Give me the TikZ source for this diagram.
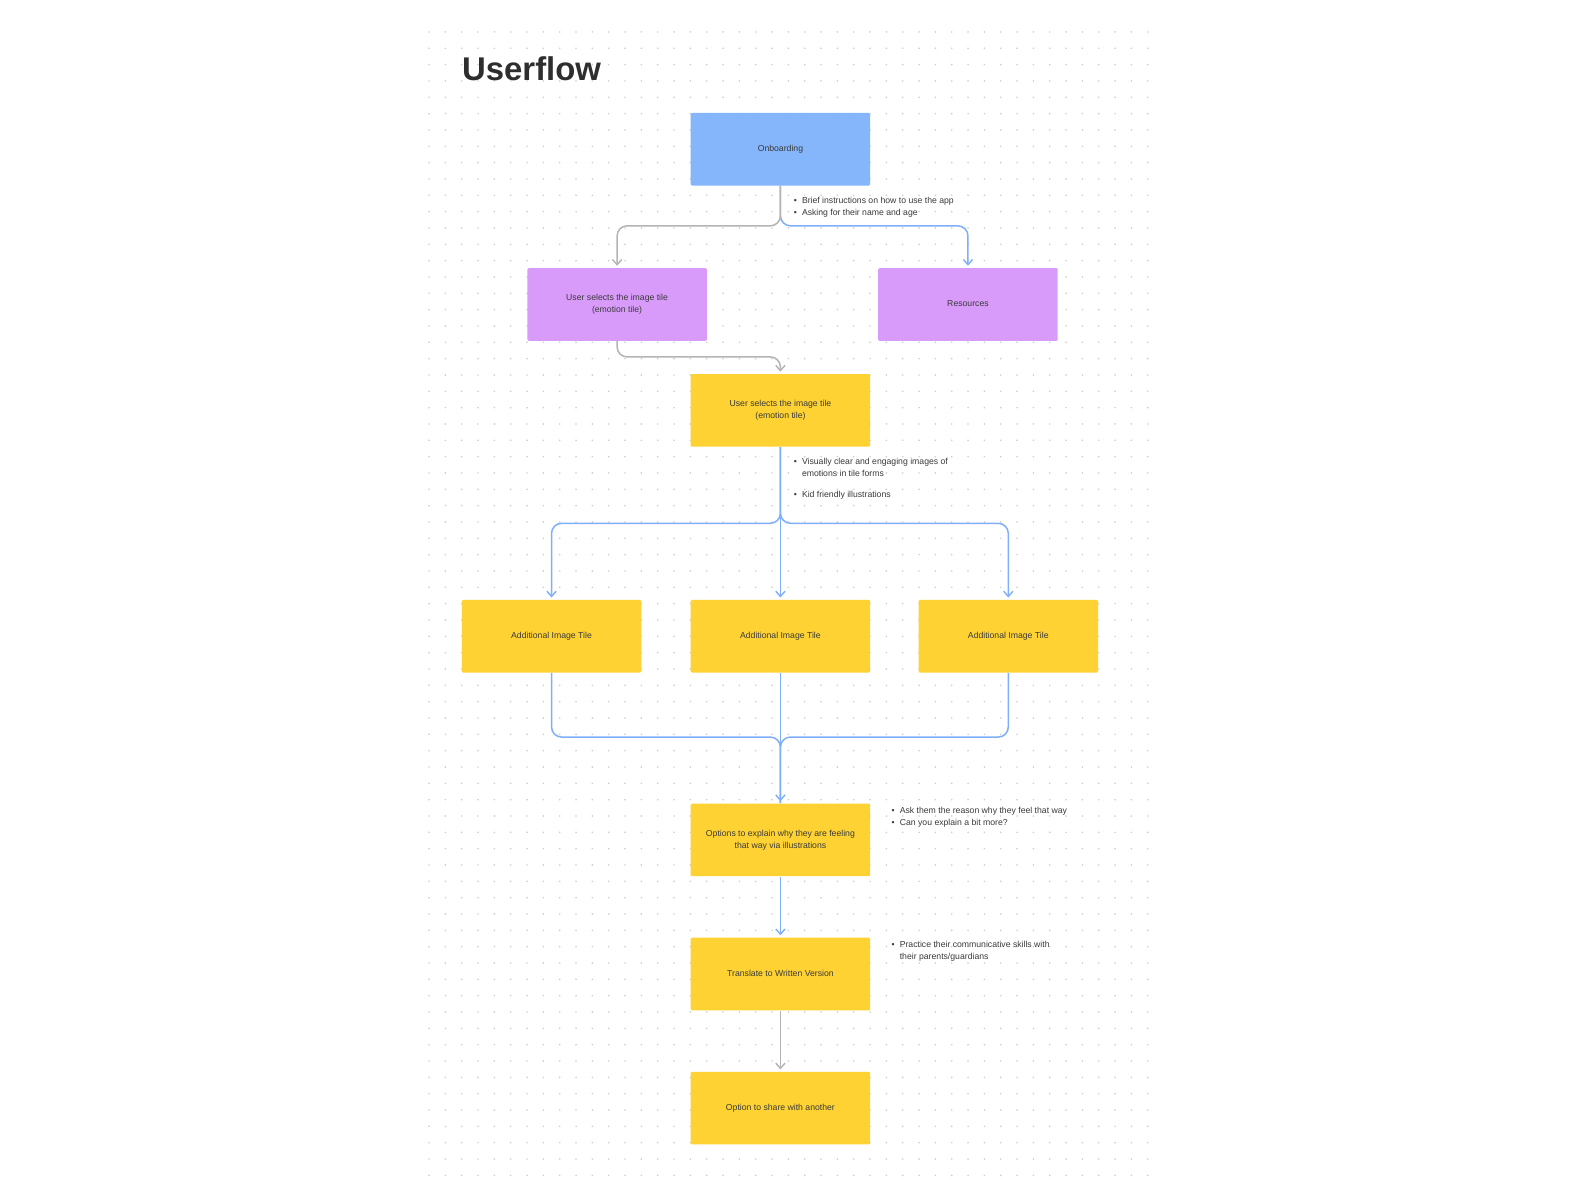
\documentclass[tikz,border=0pt]{standalone}
\usepackage{fontspec}
\setmainfont{Liberation Sans}
\usetikzlibrary{arrows.meta}
\definecolor{boxblue}{HTML}{85B5FB}
\definecolor{boxpurple}{HTML}{D99BFA}
\definecolor{boxyellow}{HTML}{FED232}
\definecolor{linkblue}{HTML}{80AFF9}
\definecolor{linkgrey}{HTML}{B4B4B4}
\definecolor{txt}{HTML}{3A3A3A}
\definecolor{titletxt}{HTML}{2E2E2E}
\definecolor{griddot}{HTML}{CFCFCF}
\tikzset{
  tile/.style={rectangle, rounded corners=0.6pt, minimum width=89pt, minimum height=36pt, inner sep=0pt,
    align=center, text=txt, font=\fontsize{4.3}{6}\selectfont},
  bluetile/.style={tile, fill=boxblue},
  purpletile/.style={tile, fill=boxpurple},
  yellowtile/.style={tile, fill=boxyellow},
  note/.style={anchor=base west, inner sep=0pt, text=txt, font=\fontsize{4.3}{6}\selectfont},
  bulletmark/.style={anchor=base west, inner sep=0pt, text=txt, font=\fontsize{4.3}{6}\selectfont},
  linkb/.style={draw=linkblue, line width=0.75pt, rounded corners=5pt},
  linkg/.style={draw=linkgrey, line width=0.75pt, rounded corners=5pt},
  tip/.style={-{Straight Barb[length=2.6pt,width=4.6pt,line width=0.7pt]}, shorten >=1pt},
}
\begin{document}
\begin{tikzpicture}[x=0.5pt,y=-0.5pt]
\useasboundingbox (0,0) rectangle (1568,1170);
\fill[white] (0,0) rectangle (1568,1170);
% dot grid
\foreach \i in {0,...,44}{
  \foreach \j in {0,...,70}{
    \fill[griddot] (425.5+\i*16.2, 31.7+\j*16.2) circle (0.45pt);
  }
}
% title
\node[anchor=base west, inner sep=0pt, text=titletxt, font=\fontsize{16.3}{19}\selectfont\bfseries] (title) at (458,80) {Userflow};

% boxes
\node[bluetile] (onb) at (774,148) {\strut Onboarding};
\node[purpletile] (ul) at (612,302) {User selects the image tile\\(emotion tile)};
\node[purpletile] (res) at (960,302) {\strut Resources};
\node[yellowtile] (y1) at (774,407) {User selects the image tile\\(emotion tile)};
\node[yellowtile] (t1) at (547,631) {\strut Additional Image Tile};
\node[yellowtile] (t2) at (774,631) {\strut Additional Image Tile};
\node[yellowtile] (t3) at (1000,631) {\strut Additional Image Tile};
\node[yellowtile] (opt) at (774,833) {Options to explain why they are feeling\\that way via illustrations};
\node[yellowtile] (tr) at (774,966) {\strut Translate to Written Version};
\node[yellowtile] (sh) at (774,1099) {\strut Option to share with another};

% junction coordinates
\coordinate (j1) at (774,224);
\coordinate (j1l) at (612,224);
\coordinate (j1r) at (960,224);
\coordinate (j2a) at (612,354);
\coordinate (j2b) at (774,354);
\coordinate (j3) at (774,519);
\coordinate (j3l) at (547,519);
\coordinate (j3r) at (1000,519);
\coordinate (j4) at (774,731);
\coordinate (j4l) at (547,731);
\coordinate (j4r) at (1000,731);

% connectors
\draw[linkb, tip] (onb.south) -- (j1) -- (j1r) -- (res.north);
\draw[linkg, tip] (onb.south) -- (j1) -- (j1l) -- (ul.north);
\draw[linkg, tip] (ul.south) -- (j2a) -- (j2b) -- (y1.north);
\draw[linkb, tip] (y1.south) -- (j3) -- (j3l) -- (t1.north);
\draw[linkb, tip] (y1.south) -- (j3) -- (j3r) -- (t3.north);
\draw[linkb, tip] (y1.south) -- (t2.north);
\draw[linkb] (t1.south) -- (j4l) -- (j4) -- (opt.north);
\draw[linkb] (t3.south) -- (j4r) -- (j4) -- (opt.north);
\draw[linkb, tip] (t2.south) -- (opt.north);
\draw[linkb, tip] (opt.south) -- (tr.north);
\draw[linkg, tip] (tr.south) -- (sh.north);

% annotations
\node[bulletmark] (b1a) at (787,202) {•};
\node[note] (n1a) at (795,202) {Brief instructions on how to use the app};
\node[bulletmark] (b1b) at (787,214) {•};
\node[note] (n1b) at (795,214) {Asking for their name and age};

\node[bulletmark] (b2a) at (787,461) {•};
\node[note] (n2a) at (795,461) {Visually clear and engaging images of};
\node[note] (n2b) at (795,473) {emotions in tile forms};
\node[bulletmark] (b2c) at (787,493) {•};
\node[note] (n2c) at (795,493) {Kid friendly illustrations};

\node[bulletmark] (b3a) at (884,807) {•};
\node[note] (n3a) at (892,807) {Ask them the reason why they feel that way};
\node[bulletmark] (b3b) at (884,819) {•};
\node[note] (n3b) at (892,819) {Can you explain a bit more?};

\node[bulletmark] (b4a) at (884,940) {•};
\node[note] (n4a) at (892,940) {Practice their communicative skills with};
\node[note] (n4b) at (892,952) {their parents/guardians};
\end{tikzpicture}
\end{document}
